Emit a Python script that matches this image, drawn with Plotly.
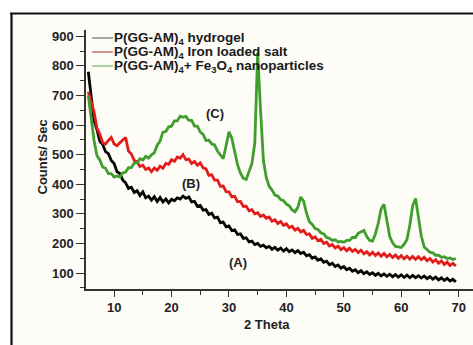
import plotly.graph_objects as go

theta = [5.5 + 0.5 * i for i in range(129)]

counts_a = [780, 705, 615, 585, 545, 535, 510, 503, 480, 470, 442, 436, 414, 405, 386, 390, 372, 378, 362, 374,
            354, 360, 346, 358, 342, 355, 340, 350, 337, 349, 344, 354, 350, 360, 352, 357, 340, 342, 325, 328,
            312, 314, 298, 302, 286, 289, 270, 272, 256, 259, 243, 246, 230, 232, 217, 219, 205, 208, 196, 200,
            190, 194, 185, 190, 180, 187, 177, 184, 174, 182, 172, 178, 169, 176, 166, 170, 158, 162, 150, 154,
            143, 148, 136, 140, 128, 133, 122, 127, 116, 122, 111, 116, 106, 111, 101, 108, 98, 104, 95, 101,
            92, 99, 90, 97, 89, 96, 87, 95, 86, 94, 85, 93, 84, 92, 84, 91, 83, 90, 81, 88,
            79, 86, 77, 84, 75, 82, 73, 79, 70]

counts_b = [712, 675, 645, 590, 570, 540, 536, 548, 558, 536, 530, 540, 548, 558, 512, 502, 480, 476, 460, 464,
            450, 455, 442, 455, 447, 461, 454, 470, 467, 483, 477, 492, 488, 500, 483, 485, 470, 477, 464, 472,
            455, 452, 430, 432, 414, 414, 393, 394, 375, 374, 357, 359, 341, 342, 325, 326, 310, 314, 300, 304,
            291, 296, 285, 289, 275, 280, 267, 274, 261, 266, 253, 258, 245, 251, 239, 244, 230, 232, 217, 222,
            209, 214, 200, 204, 191, 196, 185, 191, 179, 186, 175, 184, 173, 180, 169, 177, 165, 172, 161, 170,
            159, 168, 157, 166, 155, 163, 152, 161, 150, 159, 148, 157, 147, 156, 146, 155, 145, 153, 141, 149,
            137, 145, 133, 141, 129, 137, 125, 133, 124]

counts_c = [700, 615, 548, 497, 482, 458, 454, 436, 436, 424, 428, 424, 438, 441, 456, 456, 472, 472, 486, 482,
            494, 488, 499, 506, 532, 546, 576, 578, 594, 596, 614, 614, 630, 626, 629, 616, 616, 596, 596, 576,
            568, 548, 549, 536, 533, 512, 497, 486, 530, 577, 555, 510, 465, 437, 420, 416, 440, 470, 540, 845,
            650, 480, 422, 393, 380, 363, 360, 348, 344, 333, 327, 313, 307, 322, 357, 343, 302, 273, 264, 250,
            247, 236, 232, 220, 217, 210, 212, 205, 207, 204, 210, 210, 220, 220, 234, 238, 244, 223, 210, 208,
            232, 268, 317, 332, 282, 223, 202, 190, 188, 186, 197, 213, 262, 328, 352, 288, 224, 188, 180, 170,
            168, 160, 160, 153, 155, 149, 151, 146, 149]

series_names = ["P(GG-AM)<sub>4</sub> hydrogel",
                "P(GG-AM)<sub>4</sub> Iron loaded salt",
                "P(GG-AM)<sub>4</sub>+ Fe<sub>3</sub>O<sub>4</sub> nanoparticles"]
line_colors = ["#050505", "#e21b1b", "#3f9e2c"]
legend_colors = ["#7a7a7a", "#b85a5a", "#7fbf72"]

curve_labels = ["(A)", "(B)", "(C)"]
label_x = [31.5, 23.3, 27.6]
label_y = [134, 404, 640]

y_ticks = [100, 200, 300, 400, 500, 600, 700, 800, 900]
x_ticks = [10, 20, 30, 40, 50, 60, 70]

W, H = 473, 345
L, R, T, B = 86, 0, 30, 56
pw, ph = W - L - R, H - T - B


def px(xp):
    return (xp - L) / pw


def py(yp):
    return (H - B - yp) / ph


fig = go.Figure()
for ys, name, col in zip([counts_a, counts_b, counts_c], series_names, line_colors):
    fig.add_trace(go.Scatter(x=theta, y=ys, mode="lines", name=name,
                             line=dict(color=col, width=2.8), showlegend=False))

font_b = dict(family="Liberation Sans, Arial, sans-serif", size=13, color="#222222", weight="bold")
font_leg = dict(family="Liberation Sans, Arial, sans-serif", size=13.5, color="#1a1a1a", weight="bold")

axis_common = dict(showline=True, linecolor="#333333", linewidth=1.5, ticks="outside",
                   tickcolor="#333333", tickwidth=1.2, showgrid=False, zeroline=False,
                   tickfont=font_b)

fig.update_layout(
    width=W, height=H,
    margin=dict(l=L, r=R, t=T, b=B, pad=0),
    paper_bgcolor="#fdfcf6", plot_bgcolor="#fdfcf6",
    xaxis=dict(range=[5.1, 72.5], tickvals=x_ticks, ticklen=6,
               minor=dict(ticks="outside", ticklen=4, dtick=5, tick0=5, tickcolor="#333333"),
               **axis_common),
    yaxis=dict(range=[46, 921], tickvals=y_ticks, ticklen=8,
               minor=dict(ticks="outside", ticklen=4, dtick=50, tick0=50, tickcolor="#333333"),
               **axis_common),
)

# outer white margin and picture frame
fig.add_shape(type="rect", xref="paper", yref="paper", x0=px(-5), x1=px(W + 5), y0=py(13), y1=py(-5),
              fillcolor="white", line_width=0, layer="below")
fig.add_shape(type="rect", xref="paper", yref="paper", x0=px(-5), x1=px(11), y0=py(H + 5), y1=py(13),
              fillcolor="white", line_width=0, layer="below")
fig.add_shape(type="line", xref="paper", yref="paper", x0=px(10), x1=px(W + 5), y0=py(13.5), y1=py(13.5),
              line=dict(color="#111111", width=2.2))
fig.add_shape(type="line", xref="paper", yref="paper", x0=px(11.5), x1=px(11.5), y0=py(13), y1=py(H + 5),
              line=dict(color="#111111", width=2.2))

# legend drawn manually (thin sample lines)
for i, (name, col) in enumerate(zip(series_names, legend_colors)):
    yy = 38 + 14 * i
    fig.add_shape(type="line", xref="paper", yref="paper", x0=px(92), x1=px(113), y0=py(yy), y1=py(yy),
                  line=dict(color=col, width=1.3))
    fig.add_annotation(xref="paper", yref="paper", x=px(112), y=py(yy), xanchor="left", yanchor="middle",
                       text=name, showarrow=False, font=font_leg)

for t, xx, yy in zip(curve_labels, label_x, label_y):
    fig.add_annotation(x=xx, y=yy, text=t, showarrow=False, font=font_b)

fig.add_annotation(xref="paper", yref="paper", x=px(32), y=py(157), text="Counts/ Sec", textangle=-90,
                   showarrow=False, font=font_b)
fig.add_annotation(xref="paper", yref="paper", x=px(267), y=py(334), text="2 Theta",
                   showarrow=False, font=font_b)

fig.write_html("out.html")
